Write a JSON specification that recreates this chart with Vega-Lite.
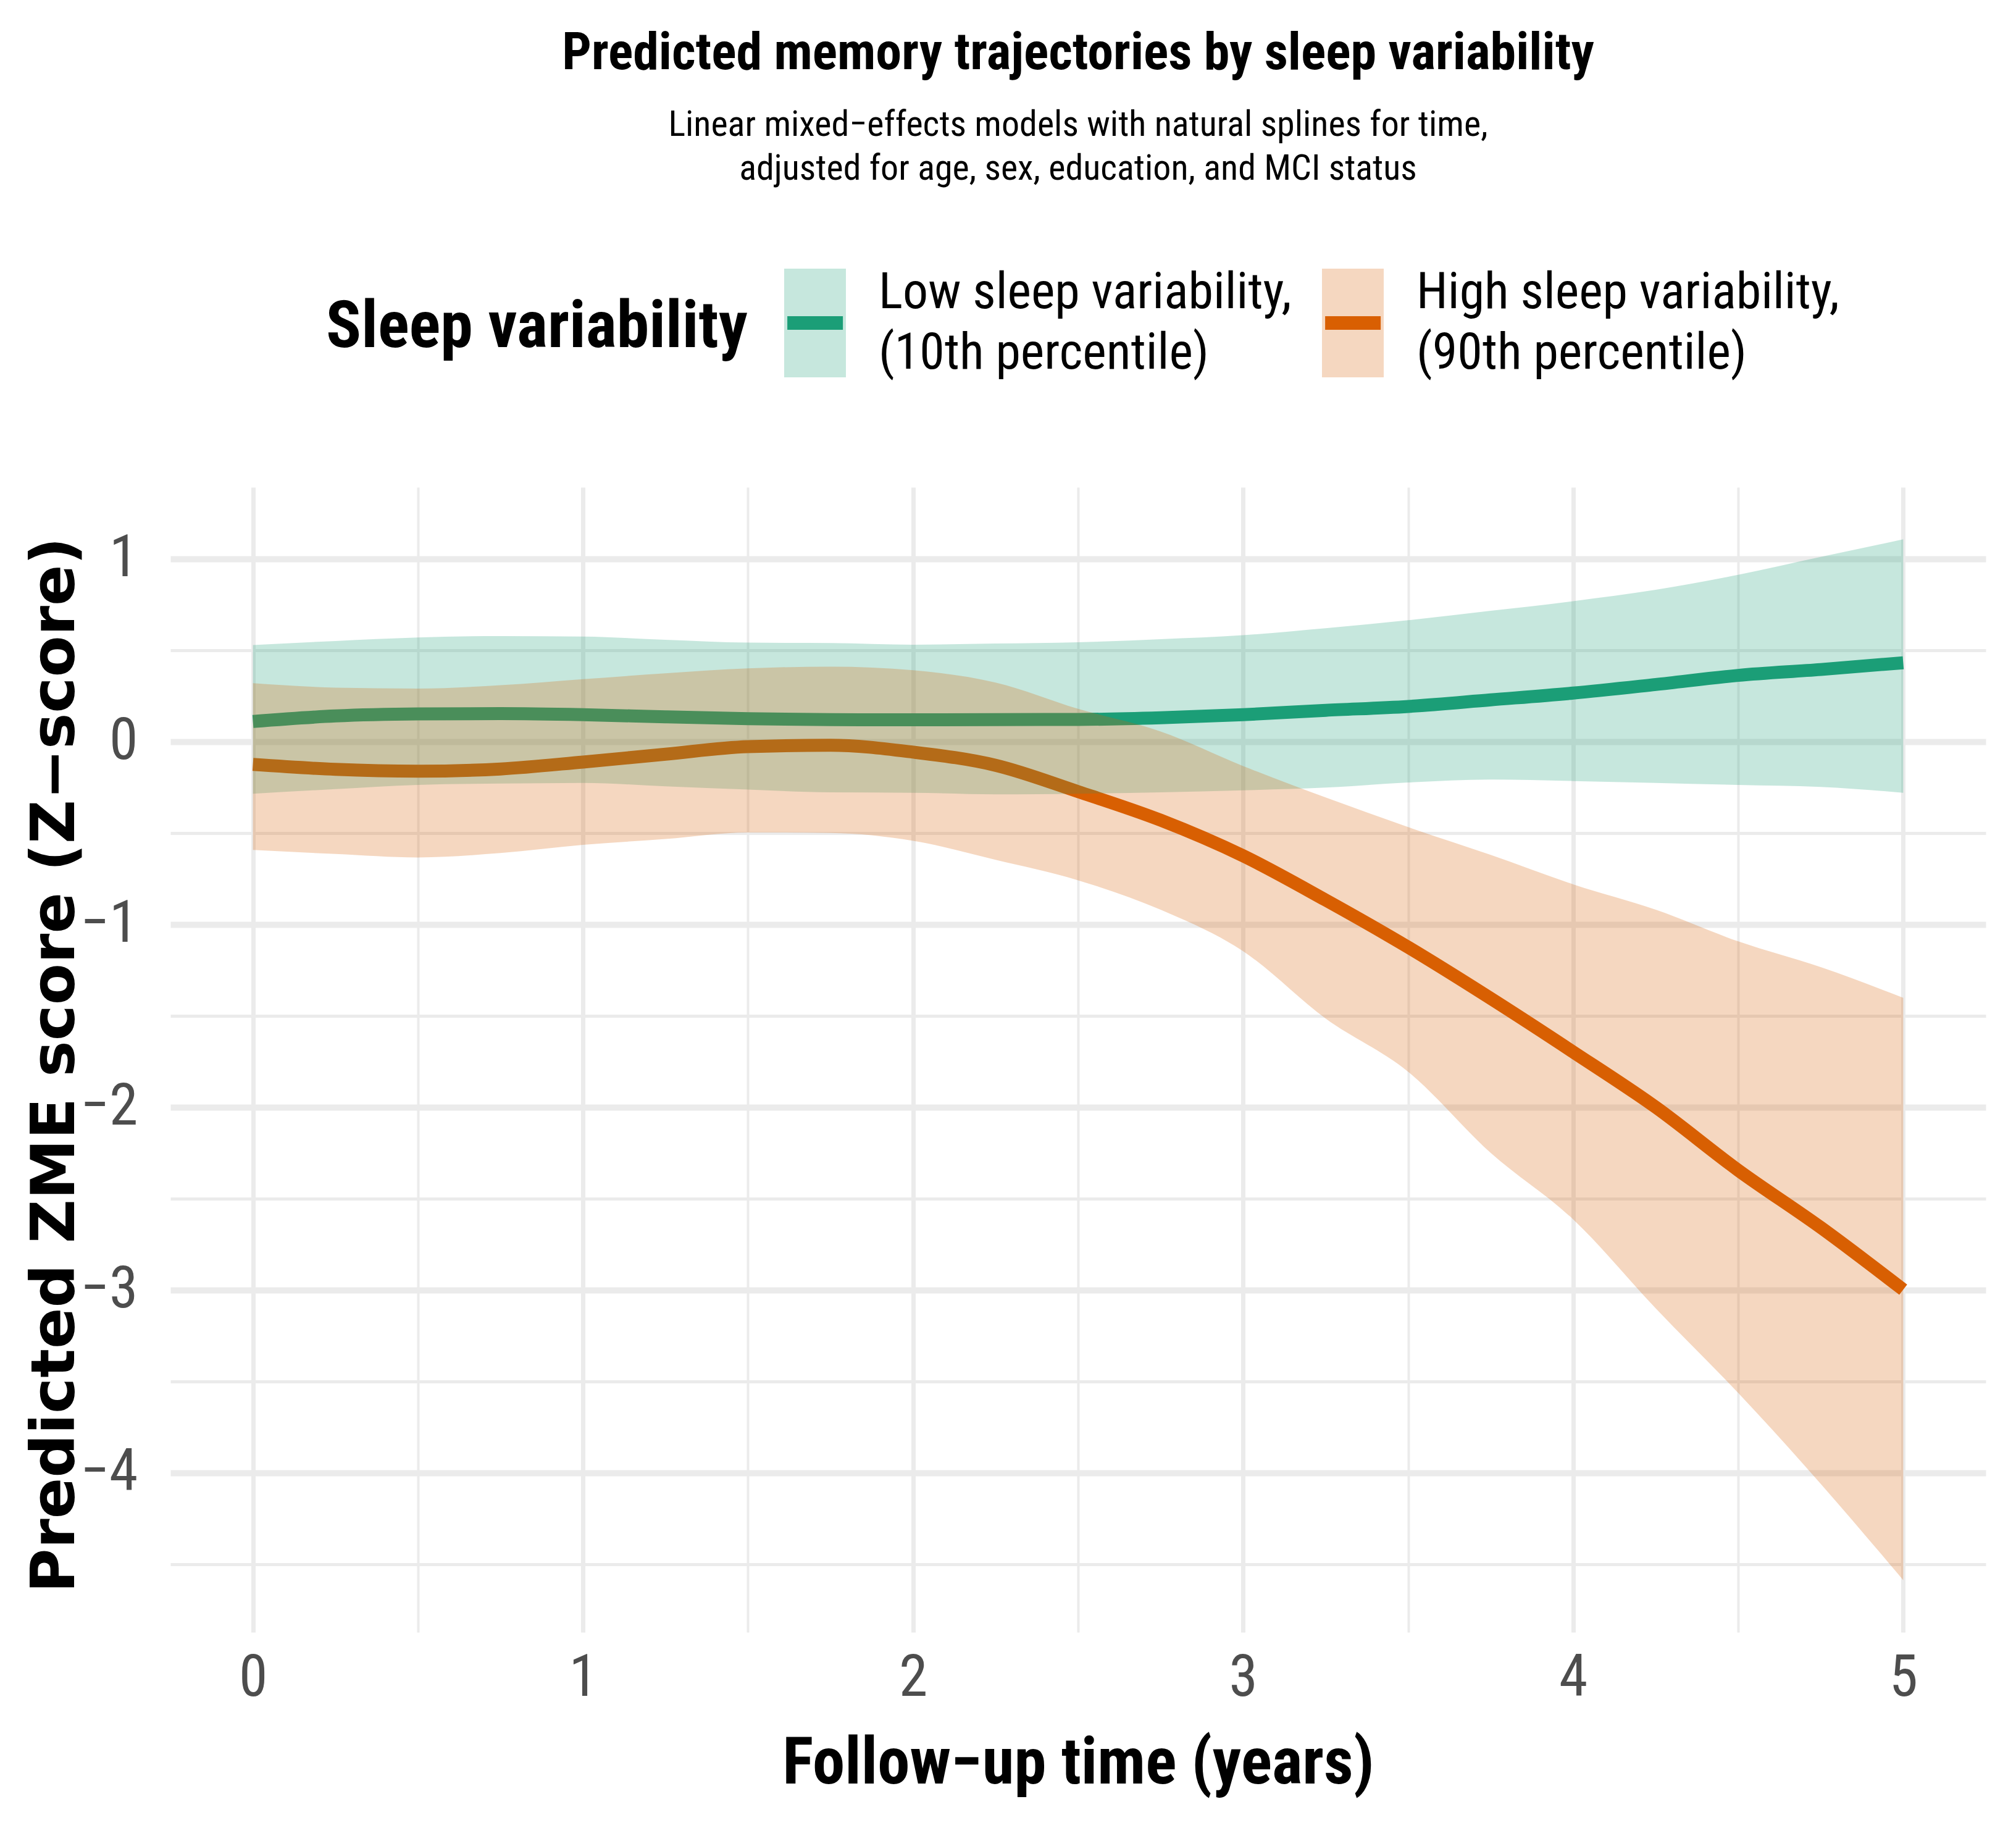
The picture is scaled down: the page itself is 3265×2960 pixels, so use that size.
{
  "$schema": "https://vega.github.io/schema/vega-lite/v6.json",
  "width": 2940,
  "height": 1854,
  "autosize": {"type": "none"},
  "padding": {"left": 276, "top": 789, "right": 49, "bottom": 317},
  "background": "white",
  "title": {
    "text": "Predicted memory trajectories by sleep variability",
    "subtitle": ["Linear mixed−effects models with natural splines for time,", "adjusted for age, sex, education, and MCI status"],
    "anchor": "middle",
    "frame": "group",
    "font": "Liberation Sans Narrow, Roboto Condensed, DejaVu Sans Condensed, Liberation Sans",
    "fontSize": 84,
    "fontWeight": "bold",
    "color": "#000000",
    "subtitleFont": "Liberation Sans Narrow, Roboto Condensed, DejaVu Sans Condensed, Liberation Sans",
    "subtitleFontSize": 58,
    "subtitleColor": "#000000",
    "subtitleLineHeight": 71,
    "subtitlePadding": 44,
    "offset": 120
  },
  "data": {
    "values": [
      {"t": 0, "grp": "Low sleep variability,\n(10th percentile)", "est": 0.11, "lo": -0.285, "hi": 0.528},
      {"t": 0.25, "grp": "Low sleep variability,\n(10th percentile)", "est": 0.14, "lo": -0.26, "hi": 0.55},
      {"t": 0.5, "grp": "Low sleep variability,\n(10th percentile)", "est": 0.151, "lo": -0.237, "hi": 0.569},
      {"t": 0.75, "grp": "Low sleep variability,\n(10th percentile)", "est": 0.153, "lo": -0.23, "hi": 0.577},
      {"t": 1.0, "grp": "Low sleep variability,\n(10th percentile)", "est": 0.147, "lo": -0.226, "hi": 0.574},
      {"t": 1.25, "grp": "Low sleep variability,\n(10th percentile)", "est": 0.135, "lo": -0.245, "hi": 0.557},
      {"t": 1.5, "grp": "Low sleep variability,\n(10th percentile)", "est": 0.125, "lo": -0.263, "hi": 0.541},
      {"t": 1.75, "grp": "Low sleep variability,\n(10th percentile)", "est": 0.12, "lo": -0.278, "hi": 0.539},
      {"t": 2.0, "grp": "Low sleep variability,\n(10th percentile)", "est": 0.119, "lo": -0.28, "hi": 0.53},
      {"t": 2.25, "grp": "Low sleep variability,\n(10th percentile)", "est": 0.12, "lo": -0.289, "hi": 0.536},
      {"t": 2.5, "grp": "Low sleep variability,\n(10th percentile)", "est": 0.121, "lo": -0.285, "hi": 0.543},
      {"t": 2.75, "grp": "Low sleep variability,\n(10th percentile)", "est": 0.13, "lo": -0.278, "hi": 0.56},
      {"t": 3.0, "grp": "Low sleep variability,\n(10th percentile)", "est": 0.147, "lo": -0.267, "hi": 0.582},
      {"t": 3.25, "grp": "Low sleep variability,\n(10th percentile)", "est": 0.171, "lo": -0.252, "hi": 0.62},
      {"t": 3.5, "grp": "Low sleep variability,\n(10th percentile)", "est": 0.192, "lo": -0.224, "hi": 0.664},
      {"t": 3.75, "grp": "Low sleep variability,\n(10th percentile)", "est": 0.228, "lo": -0.208, "hi": 0.715},
      {"t": 4.0, "grp": "Low sleep variability,\n(10th percentile)", "est": 0.265, "lo": -0.216, "hi": 0.768},
      {"t": 4.25, "grp": "Low sleep variability,\n(10th percentile)", "est": 0.312, "lo": -0.226, "hi": 0.83},
      {"t": 4.5, "grp": "Low sleep variability,\n(10th percentile)", "est": 0.362, "lo": -0.237, "hi": 0.912},
      {"t": 4.75, "grp": "Low sleep variability,\n(10th percentile)", "est": 0.394, "lo": -0.248, "hi": 1.01},
      {"t": 5.0, "grp": "Low sleep variability,\n(10th percentile)", "est": 0.431, "lo": -0.28, "hi": 1.106},
      {"t": 0, "grp": "High sleep variability,\n(90th percentile)", "est": -0.125, "lo": -0.593, "hi": 0.319},
      {"t": 0.25, "grp": "High sleep variability,\n(90th percentile)", "est": -0.152, "lo": -0.615, "hi": 0.295},
      {"t": 0.5, "grp": "High sleep variability,\n(90th percentile)", "est": -0.162, "lo": -0.634, "hi": 0.29},
      {"t": 0.75, "grp": "High sleep variability,\n(90th percentile)", "est": -0.15, "lo": -0.61, "hi": 0.308},
      {"t": 1.0, "grp": "High sleep variability,\n(90th percentile)", "est": -0.112, "lo": -0.565, "hi": 0.341},
      {"t": 1.25, "grp": "High sleep variability,\n(90th percentile)", "est": -0.069, "lo": -0.533, "hi": 0.373},
      {"t": 1.5, "grp": "High sleep variability,\n(90th percentile)", "est": -0.028, "lo": -0.497, "hi": 0.4},
      {"t": 1.75, "grp": "High sleep variability,\n(90th percentile)", "est": -0.02, "lo": -0.5, "hi": 0.41},
      {"t": 2.0, "grp": "High sleep variability,\n(90th percentile)", "est": -0.058, "lo": -0.543, "hi": 0.39},
      {"t": 2.25, "grp": "High sleep variability,\n(90th percentile)", "est": -0.13, "lo": -0.647, "hi": 0.323},
      {"t": 2.5, "grp": "High sleep variability,\n(90th percentile)", "est": -0.274, "lo": -0.759, "hi": 0.179},
      {"t": 2.75, "grp": "High sleep variability,\n(90th percentile)", "est": -0.43, "lo": -0.92, "hi": 0.055},
      {"t": 3.0, "grp": "High sleep variability,\n(90th percentile)", "est": -0.625, "lo": -1.147, "hi": -0.134},
      {"t": 3.25, "grp": "High sleep variability,\n(90th percentile)", "est": -0.867, "lo": -1.515, "hi": -0.306},
      {"t": 3.5, "grp": "High sleep variability,\n(90th percentile)", "est": -1.125, "lo": -1.806, "hi": -0.468},
      {"t": 3.75, "grp": "High sleep variability,\n(90th percentile)", "est": -1.405, "lo": -2.25, "hi": -0.62},
      {"t": 4.0, "grp": "High sleep variability,\n(90th percentile)", "est": -1.698, "lo": -2.614, "hi": -0.781},
      {"t": 4.25, "grp": "High sleep variability,\n(90th percentile)", "est": -2.0, "lo": -3.1, "hi": -0.92},
      {"t": 4.5, "grp": "High sleep variability,\n(90th percentile)", "est": -2.345, "lo": -3.563, "hi": -1.093},
      {"t": 4.75, "grp": "High sleep variability,\n(90th percentile)", "est": -2.658, "lo": -4.06, "hi": -1.234},
      {"t": 5.0, "grp": "High sleep variability,\n(90th percentile)", "est": -2.998, "lo": -4.587, "hi": -1.402}
    ]
  },
  "encoding": {
    "x": {
      "field": "t",
      "type": "quantitative",
      "scale": {"domain": [-0.25, 5.25], "nice": false, "zero": false},
      "axis": {
        "title": "Follow−up time (years)",
        "values": [0, 0.5, 1, 1.5, 2, 2.5, 3, 3.5, 4, 4.5, 5],
        "format": "~g",
        "labelExpr": "datum.value % 1 === 0 ? datum.label : ''",
        "labelOverlap": false,
        "labelFlush": false,
        "domain": false,
        "ticks": false,
        "tickSize": 0,
        "grid": true,
        "gridColor": "#EBEBEB",
        "gridWidth": {"condition": {"test": "datum.value % 1 === 0", "value": 7}, "value": 4},
        "labelFont": "Liberation Sans Narrow, Roboto Condensed, DejaVu Sans Condensed, Liberation Sans",
        "labelFontSize": 94,
        "labelColor": "#4D4D4D",
        "labelBaseline": "alphabetic",
        "labelPadding": 102,
        "titleFont": "Liberation Sans Narrow, Roboto Condensed, DejaVu Sans Condensed, Liberation Sans",
        "titleFontSize": 105,
        "titleFontWeight": "bold",
        "titleColor": "#000000",
        "titleBaseline": "alphabetic",
        "titleY": 244
      }
    }
  },
  "layer": [
    {
      "mark": {"type": "line", "strokeWidth": 21, "interpolate": "monotone", "strokeCap": "butt"},
      "encoding": {
        "y": {
          "field": "est",
          "type": "quantitative",
          "scale": {"domain": [-4.872, 1.391], "nice": false, "zero": false},
          "axis": {
            "title": "Predicted ZME score (Z−score)",
            "values": [-4.5, -4, -3.5, -3, -2.5, -2, -1.5, -1, -0.5, 0, 0.5, 1],
            "format": "~g",
            "labelExpr": "datum.value % 1 === 0 ? datum.label : ''",
            "labelOverlap": false,
            "labelFlush": false,
            "labelAlign": "right",
            "domain": false,
            "ticks": false,
            "tickSize": 0,
            "grid": true,
            "gridColor": "#EBEBEB",
            "gridWidth": {"condition": {"test": "datum.value % 1 === 0", "value": 10}, "value": 5},
            "labelFont": "Liberation Sans Narrow, Roboto Condensed, DejaVu Sans Condensed, Liberation Sans",
            "labelFontSize": 94,
            "labelColor": "#4D4D4D",
            "labelPadding": 53,
            "titleFont": "DejaVu Sans",
            "titleFontSize": 98,
            "titleFontWeight": "bold",
            "titleColor": "#000000",
            "titleAngle": 270,
            "titleAlign": "center",
            "titleBaseline": "middle",
            "titleX": -186,
            "titleY": 935
          }
        },
        "stroke": {
          "field": "grp",
          "type": "nominal",
          "sort": ["Low sleep variability,\n(10th percentile)", "High sleep variability,\n(90th percentile)"],
          "scale": {"range": ["#1B9E77", "#D95F02"]},
          "legend": null
        }
      }
    },
    {
      "mark": {"type": "area", "opacity": 0.25, "interpolate": "monotone"},
      "encoding": {
        "y": {
          "field": "lo",
          "type": "quantitative",
          "scale": {"domain": [-4.872, 1.391], "nice": false, "zero": false},
          "axis": {
            "title": "Predicted ZME score (Z−score)",
            "values": [-4.5, -4, -3.5, -3, -2.5, -2, -1.5, -1, -0.5, 0, 0.5, 1],
            "format": "~g",
            "labelExpr": "datum.value % 1 === 0 ? datum.label : ''",
            "labelOverlap": false,
            "labelFlush": false,
            "labelAlign": "right",
            "domain": false,
            "ticks": false,
            "tickSize": 0,
            "grid": true,
            "gridColor": "#EBEBEB",
            "gridWidth": {"condition": {"test": "datum.value % 1 === 0", "value": 10}, "value": 5},
            "labelFont": "Liberation Sans Narrow, Roboto Condensed, DejaVu Sans Condensed, Liberation Sans",
            "labelFontSize": 94,
            "labelColor": "#4D4D4D",
            "labelPadding": 53,
            "titleFont": "DejaVu Sans",
            "titleFontSize": 98,
            "titleFontWeight": "bold",
            "titleColor": "#000000",
            "titleAngle": 270,
            "titleAlign": "center",
            "titleBaseline": "middle",
            "titleX": -186,
            "titleY": 935
          }
        },
        "y2": {"field": "hi"},
        "fill": {
          "field": "grp",
          "type": "nominal",
          "scale": {"domain": ["Low sleep variability,\n(10th percentile)", "High sleep variability,\n(90th percentile)"], "range": ["#1B9E77", "#D95F02"]},
          "legend": {
            "orient": "none",
            "legendX": 252,
            "legendY": -365,
            "direction": "horizontal",
            "title": "Sleep variability",
            "titleOrient": "left",
            "titleAnchor": "middle",
            "titleBaseline": "middle",
            "titleFont": "Liberation Sans Narrow, Roboto Condensed, DejaVu Sans Condensed, Liberation Sans",
            "titleFontWeight": "bold",
            "titleFontSize": 106,
            "titleColor": "#000000",
            "titlePadding": 9,
            "titleLimit": 3000,
            "labelFont": "Liberation Sans Narrow, Roboto Condensed, DejaVu Sans Condensed, Liberation Sans",
            "labelFontSize": 82,
            "labelColor": "#000000",
            "labelLimit": 3000,
            "labelOffset": 4,
            "labelExpr": "split(datum.label, '\\n')",
            "symbolType": "M-0.51,0H0.568V-1H-0.568V1H0.568V0Z",
            "symbolSize": 30976,
            "symbolStrokeWidth": 22,
            "symbolDash": [90, 5000],
            "symbolOpacity": 1,
            "symbolOffset": 0,
            "columnPadding": 0,
            "padding": 0,
            "encode": {
              "labels": {"update": {"lineHeight": {"value": 98}, "dy": {"value": -49}}},
              "symbols": {"update": {
                "stroke": {"scale": "fill", "field": "value"},
                "strokeOpacity": {"value": 1},
                "fillOpacity": {"value": 0.25},
                "opacity": {"value": 1},
                "strokeCap": {"value": "butt"}
              }},
              "title": {"update": {"dy": {"value": -10}}}
            }
          }
        }
      }
    }
  ],
  "config": {
    "view": {"stroke": null},
    "style": {"guide-label": {"lineHeight": 98}}
  }
}
